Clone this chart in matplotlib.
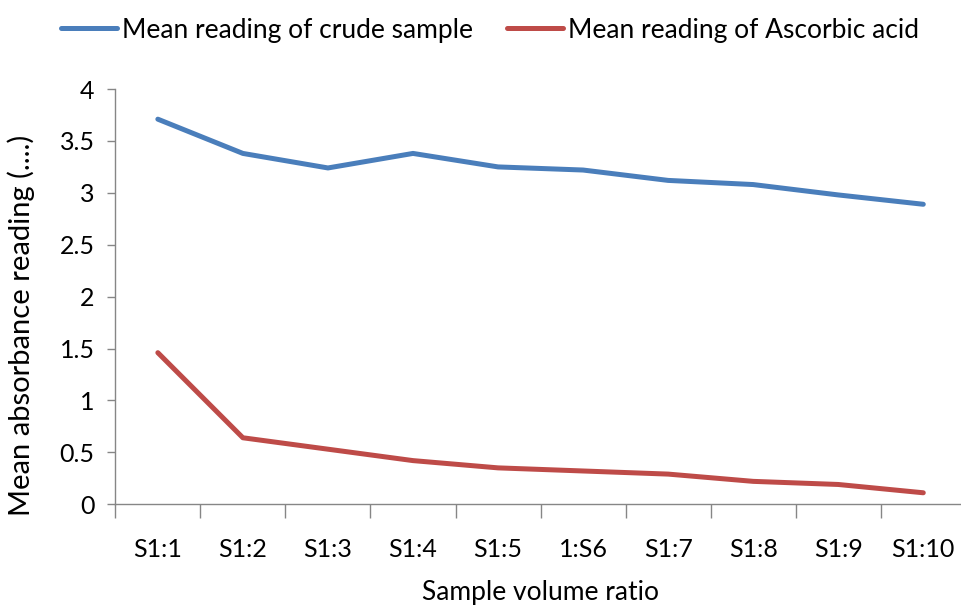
import matplotlib
matplotlib.use("Agg")
import matplotlib.pyplot as plt
import numpy as np

categories = ["S1:1", "S1:2", "S1:3", "S1:4", "S1:5", "1:S6", "S1:7", "S1:8", "S1:9", "S1:10"]
crude_sample = [3.71, 3.38, 3.24, 3.38, 3.25, 3.22, 3.12, 3.08, 2.98, 2.89]
ascorbic_acid = [1.46, 0.64, 0.53, 0.42, 0.35, 0.32, 0.29, 0.22, 0.19, 0.11]
y_ticks = [0, 0.5, 1, 1.5, 2, 2.5, 3, 3.5, 4]

BLUE = "#4a7ebb"
RED = "#be4b48"
AXIS = "#868686"
FS = 19

plt.rcParams["font.family"] = ["Lato", "DejaVu Sans"]

fig = plt.figure(figsize=(9.61, 6.06), dpi=100)
ax = fig.add_axes([0.12, 0.168, 0.885, 0.685])

x = np.arange(len(categories))
ax.plot(x, crude_sample, color=BLUE, linewidth=3.6, solid_capstyle="round",
        label="Mean reading of crude sample")
ax.plot(x, ascorbic_acid, color=RED, linewidth=3.6, solid_capstyle="round",
        label="Mean reading of Ascorbic acid")

ax.set_xlim(-0.5, len(categories) - 0.5)
ax.set_ylim(0, 4)
ax.set_yticks(y_ticks)
ax.set_yticklabels([f"{v:g}" for v in y_ticks])
ax.set_xticks(x)
ax.set_xticklabels(categories)
ax.set_xticks(np.arange(len(categories) + 1) - 0.5, minor=True)
ax.tick_params(axis="x", which="major", length=0, pad=24, labelsize=18)
ax.tick_params(axis="x", which="minor", length=10, width=1, color=AXIS)
ax.tick_params(axis="y", length=6, width=1, color=AXIS, labelsize=18, pad=9)

for side in ["top", "right"]:
    ax.spines[side].set_visible(False)
for side in ["left", "bottom"]:
    ax.spines[side].set_color(AXIS)
    ax.spines[side].set_linewidth(1)

ax.set_xlabel("Sample volume ratio", fontsize=FS, labelpad=14)
ax.set_ylabel("Mean absorbance reading (....)", fontsize=21, labelpad=12)
ax.yaxis.set_label_coords(-0.095, 0.43)

fig.legend(loc="upper center", bbox_to_anchor=(0.51, 1.01), ncol=2, frameon=False,
           fontsize=FS, handlelength=2.1, handletextpad=0.2, columnspacing=1.3)

fig.savefig("out.png", dpi=100)
